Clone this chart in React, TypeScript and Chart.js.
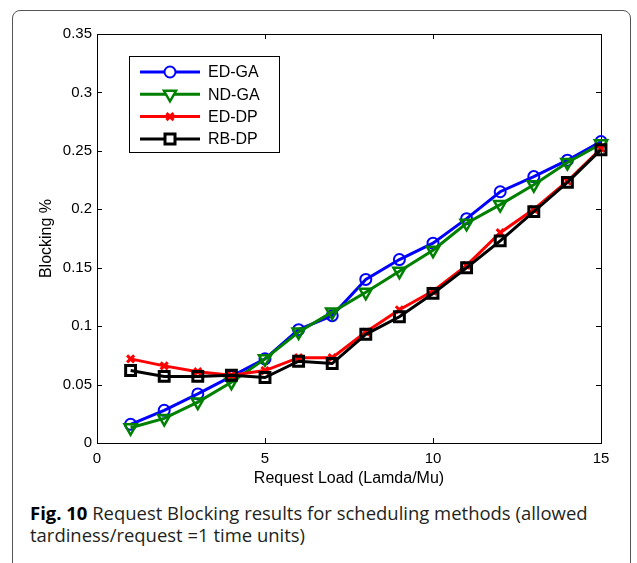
import React, { useEffect, useRef } from 'react';
import { Chart, registerables } from 'chart.js';

Chart.register(...registerables);

const loads = [1, 2, 3, 4, 5, 6, 7, 8, 9, 10, 11, 12, 13, 14, 15];
const edGa = [0.016, 0.028, 0.042, 0.057, 0.072, 0.097, 0.109, 0.140, 0.157, 0.171, 0.192, 0.215, 0.228, 0.242, 0.258];
const ndGa = [0.013, 0.021, 0.035, 0.052, 0.072, 0.095, 0.112, 0.129, 0.147, 0.165, 0.188, 0.204, 0.221, 0.240, 0.256];
const edDp = [0.072, 0.066, 0.061, 0.058, 0.062, 0.073, 0.073, 0.095, 0.114, 0.130, 0.152, 0.180, 0.200, 0.224, 0.252];
const rbDp = [0.062, 0.057, 0.057, 0.058, 0.056, 0.070, 0.068, 0.093, 0.108, 0.128, 0.150, 0.173, 0.198, 0.223, 0.251];

const seriesLabels = ['ED-GA', 'ND-GA', 'ED-DP', 'RB-DP'];
const xTicks = [0, 5, 10, 15];
const yTicks = [0, 0.05, 0.1, 0.15, 0.2, 0.25, 0.3, 0.35];
const xTitle = 'Request Load (Lamda/Mu)';
const yTitle = 'Blocking %';
const captionBold = 'Fig. 10';
const captionLine1 = ' Request Blocking results for scheduling methods (allowed';
const captionLine2 = 'tardiness/request =1 time units)';

const AXIS_FONT = 'Liberation Sans, Arial, sans-serif';

type MarkerKind = 'circle' | 'triDown' | 'cross' | 'square';
const styles: { color: string; marker: MarkerKind }[] = [
  { color: '#0000ff', marker: 'circle' },
  { color: '#008000', marker: 'triDown' },
  { color: '#ff0000', marker: 'cross' },
  { color: '#000000', marker: 'square' },
];

function drawMarker(ctx: CanvasRenderingContext2D, kind: MarkerKind, x: number, y: number, color: string) {
  ctx.save();
  ctx.strokeStyle = color;
  ctx.fillStyle = '#ffffff';
  ctx.beginPath();
  if (kind === 'circle') {
    ctx.lineWidth = 2;
    ctx.arc(x, y, 5.5, 0, Math.PI * 2);
    ctx.fill();
    ctx.stroke();
  } else if (kind === 'triDown') {
    ctx.lineWidth = 2.5;
    const r = 7;
    ctx.moveTo(x - r * Math.cos(Math.PI / 6), y - r / 2);
    ctx.lineTo(x + r * Math.cos(Math.PI / 6), y - r / 2);
    ctx.lineTo(x, y + r);
    ctx.closePath();
    ctx.fill();
    ctx.stroke();
  } else if (kind === 'cross') {
    ctx.lineWidth = 3;
    const d = 3.5;
    ctx.moveTo(x - d, y - d);
    ctx.lineTo(x + d, y + d);
    ctx.moveTo(x + d, y - d);
    ctx.lineTo(x - d, y + d);
    ctx.stroke();
  } else {
    ctx.lineWidth = 3;
    const s = 5;
    ctx.rect(x - s, y - s, 2 * s, 2 * s);
    ctx.fill();
    ctx.stroke();
  }
  ctx.restore();
}

const framePlugin = {
  id: 'matlabFrame',
  beforeDatasetsDraw(chart: any) {
    const { ctx, chartArea } = chart;
    const { left, right, top, bottom } = chartArea;
    const xs = chart.scales.x;
    const ys = chart.scales.y;
    ctx.save();
    ctx.strokeStyle = '#000';
    ctx.lineWidth = 1;
    ctx.strokeRect(Math.round(left) + 0.5, Math.round(top) + 0.5, Math.round(right - left), Math.round(bottom - top));
    ctx.beginPath();
    const tl = 5;
    xTicks.forEach((v) => {
      const px = Math.round(xs.getPixelForValue(v)) + 0.5;
      ctx.moveTo(px, bottom);
      ctx.lineTo(px, bottom - tl);
      ctx.moveTo(px, top);
      ctx.lineTo(px, top + tl);
    });
    yTicks.forEach((v) => {
      const py = Math.round(ys.getPixelForValue(v)) + 0.5;
      ctx.moveTo(left, py);
      ctx.lineTo(left + tl, py);
      ctx.moveTo(right, py);
      ctx.lineTo(right - tl, py);
    });
    ctx.stroke();
    ctx.restore();
  },
  afterDraw(chart: any) {
    const { ctx } = chart;
    ctx.save();
    const bx = 129.5, by = 56.5, bw = 150, bh = 96;
    ctx.fillStyle = '#ffffff';
    ctx.fillRect(bx, by, bw, bh);
    ctx.strokeStyle = '#000';
    ctx.lineWidth = 1;
    ctx.strokeRect(bx, by, bw, bh);
    seriesLabels.forEach((label, i) => {
      const y = 72 + i * 22.3;
      const st = styles[i];
      ctx.strokeStyle = st.color;
      ctx.lineWidth = 3;
      ctx.beginPath();
      ctx.moveTo(140, y);
      ctx.lineTo(200, y);
      ctx.stroke();
      drawMarker(ctx, st.marker, 170, y, st.color);
      ctx.fillStyle = '#000';
      ctx.font = '16px ' + AXIS_FONT;
      ctx.textBaseline = 'middle';
      ctx.textAlign = 'left';
      ctx.fillText(label, 208, y + 1);
    });
    ctx.restore();
  },
};

export default function App() {
  const canvasRef = useRef<HTMLCanvasElement | null>(null);
  const line1Ref = useRef<HTMLDivElement | null>(null);
  const line2Ref = useRef<HTMLDivElement | null>(null);

  useEffect(() => {
    const canvas = canvasRef.current;
    if (!canvas) return;
    const seriesData = [edGa, ndGa, edDp, rbDp];
    const pointStyles: any[] = ['circle', 'triangle', 'crossRot', 'rect'];
    const radii = [5.5, 7, 5, 7];
    const pbw = [2, 2.5, 3, 3];
    const chart = new Chart(canvas, {
      type: 'line',
      data: {
        datasets: seriesData.map((vals, i) => ({
          label: seriesLabels[i],
          data: loads.map((x, j) => ({ x, y: vals[j] })),
          borderColor: styles[i].color,
          backgroundColor: 'rgba(0,0,0,0)',
          borderWidth: 3,
          pointStyle: pointStyles[i],
          pointRadius: radii[i],
          pointRotation: i === 1 ? 180 : 0,
          pointBorderWidth: pbw[i],
          pointBorderColor: styles[i].color,
          pointBackgroundColor: 'rgba(0,0,0,0)',
          tension: 0,
          clip: false as any,
          order: 3 - i,
        })),
      },
      options: {
        animation: false,
        responsive: false,
        maintainAspectRatio: false,
        layout: { padding: { left: 0, right: 36, top: 34, bottom: 0 } },
        plugins: { legend: { display: false }, tooltip: { enabled: false } },
        scales: {
          x: {
            type: 'linear',
            min: 0,
            max: 15,
            afterBuildTicks: (s: any) => { s.ticks = xTicks.map((v) => ({ value: v })); },
            afterFit: (s: any) => { s.height = 57; },
            grid: { display: false, drawTicks: false },
            border: { display: false },
            ticks: {
              padding: 7,
              color: '#000',
              maxRotation: 0,
              font: { family: AXIS_FONT, size: 15 },
              callback: (v: any) => String(v),
            },
            title: {
              display: true,
              text: xTitle,
              color: '#000',
              font: { family: AXIS_FONT, size: 16 },
              padding: { top: 0, bottom: 12 },
            },
          },
          y: {
            type: 'linear',
            min: 0,
            max: 0.35,
            afterBuildTicks: (s: any) => { s.ticks = yTicks.map((v) => ({ value: v })); },
            afterFit: (s: any) => { s.width = 97; },
            grid: { display: false, drawTicks: false },
            border: { display: false },
            ticks: {
              padding: 5,
              color: '#000',
              font: { family: AXIS_FONT, size: 15 },
              callback: (v: any) => String(Number(Number(v).toFixed(2))),
            },
            title: {
              display: true,
              text: yTitle,
              color: '#000',
              font: { family: AXIS_FONT, size: 16 },
              padding: { top: 37, bottom: 0 },
            },
          },
        },
      },
      plugins: [framePlugin],
    } as any);

    // fit caption width to reference
    const l1 = line1Ref.current;
    const l2 = line2Ref.current;
    if (l1 && l2) {
      const w = l1.scrollWidth;
      const k = w > 0 ? 558 / w : 1;
      l1.style.transform = `scaleX(${k})`;
      l2.style.transform = `scaleX(${k})`;
    }
    return () => chart.destroy();
  }, []);

  const captionStyle: React.CSSProperties = {
    position: 'absolute',
    left: 30,
    whiteSpace: 'nowrap',
    fontFamily: '"Open Sans", "Noto Sans", sans-serif',
    fontSize: 18,
    lineHeight: '21px',
    color: '#231f20',
    transformOrigin: 'left center',
    display: 'inline-block',
  };

  return (
    <div style={{ position: 'absolute', left: 0, top: 0, width: 637, height: 563, background: '#fff', overflow: 'hidden' }}>
      <div
        style={{
          position: 'absolute',
          left: 12,
          top: 10,
          width: 619,
          height: 620,
          border: '1px solid #555',
          borderRadius: 8,
          boxSizing: 'border-box',
        }}
      />
      <canvas ref={canvasRef} width={637} height={500} style={{ position: 'absolute', left: 0, top: 0, width: 637, height: 500 }} />
      <div ref={line1Ref} style={{ ...captionStyle, top: 503 }}>
        <span style={{ fontWeight: 700, color: '#000' }}>{captionBold}</span>
        {captionLine1}
      </div>
      <div ref={line2Ref} style={{ ...captionStyle, top: 525 }}>{captionLine2}</div>
    </div>
  );
}
